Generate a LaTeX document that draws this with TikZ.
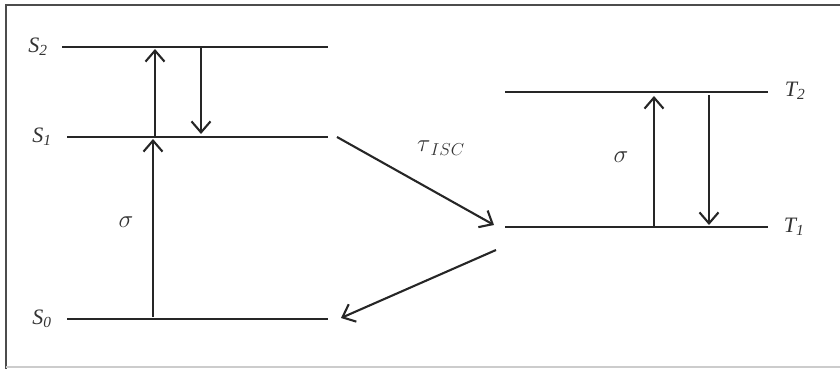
\documentclass[tikz,border=0pt]{standalone}
\usepackage{fontspec}
\setmainfont{Liberation Serif}
\usetikzlibrary{arrows.meta}
\begin{document}
\begin{tikzpicture}[x=1pt,y=-1pt,
  level/.style={line width=2.3pt,black!85},
  trans/.style={line width=2.1pt,black!85,-{Straight Barb[length=11pt,width=19pt,line width=2.1pt]}},
  lbl/.style={font=\fontsize{22}{26}\selectfont\itshape,inner sep=0pt,text=black!80},
  greek/.style={font=\fontsize{26}{30}\selectfont,inner sep=0pt,text=black!80}]
\useasboundingbox (0,0) rectangle (840,369);
\draw[line width=2.5pt,black!70] (6,369) -- (6,5) -- (840,5);
\draw[line width=2pt,black!20] (6,367) -- (840,367);
% levels
\coordinate (s2a) at (62,47); \coordinate (s2b) at (328,47);
\coordinate (s1a) at (67,137); \coordinate (s1b) at (328,137);
\coordinate (s0a) at (67,319); \coordinate (s0b) at (328,319);
\coordinate (t2a) at (505,92); \coordinate (t2b) at (768,92);
\coordinate (t1a) at (505,227); \coordinate (t1b) at (768,227);
\draw[level] (s2a) -- (s2b);
\draw[level] (s1a) -- (s1b);
\draw[level] (s0a) -- (s0b);
\draw[level] (t2a) -- (t2b);
\draw[level] (t1a) -- (t1b);
% labels
\node[lbl] (S2) at (38,47) {S\textsubscript{2}};
\node[lbl] (S1) at (42,137) {S\textsubscript{1}};
\node[lbl] (S0) at (42,319) {S\textsubscript{0}};
\node[lbl] (T2) at (795,91) {T\textsubscript{2}};
\node[lbl] (T1) at (794,227) {T\textsubscript{1}};
\node[greek] (sig1) at (126,222) {$\sigma$};
\node[greek] (sig2) at (621,157) {$\sigma$};
\node[greek] (tau) at (441,148) {$\tau_{\,ISC}$};
% transitions
\coordinate (a1) at (153,317); \coordinate (a1e) at (153,139);
\draw[trans] (a1) -- (a1e);
\coordinate (a2) at (155,137); \coordinate (a2e) at (155,49);
\draw[trans] (a2) -- (a2e);
\coordinate (a3) at (201,48); \coordinate (a3e) at (201,134);
\draw[trans] (a3) -- (a3e);
\coordinate (d1) at (337,137); \coordinate (d1e) at (494,225);
\draw[trans] (d1) -- (d1e);
\coordinate (d2) at (496,250); \coordinate (d2e) at (341,318);
\draw[trans] (d2) -- (d2e);
\coordinate (b1) at (654,227); \coordinate (b1e) at (654,96);
\draw[trans] (b1) -- (b1e);
\coordinate (b2) at (709,95); \coordinate (b2e) at (709,225);
\draw[trans] (b2) -- (b2e);
\end{tikzpicture}
\end{document}
